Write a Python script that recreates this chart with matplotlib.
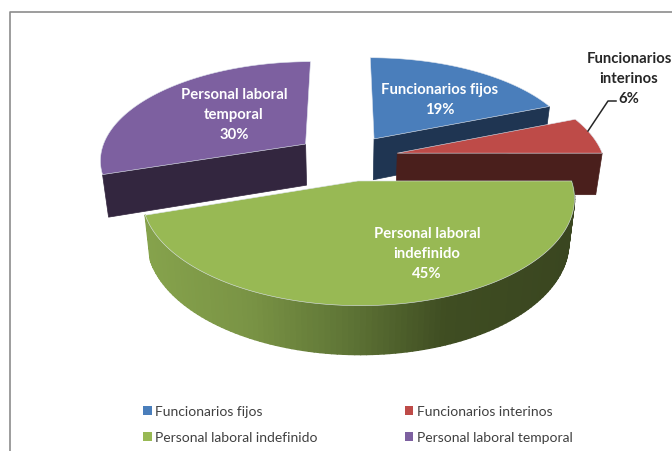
import numpy as np
import matplotlib
matplotlib.use("Agg")
import matplotlib.pyplot as plt
from matplotlib.colors import to_rgb
from matplotlib.patches import Polygon, Patch

categorias = ["Funcionarios fijos", "Funcionarios interinos",
              "Personal laboral indefinido", "Personal laboral temporal"]
valores = [19, 6, 45, 30]
etiquetas = ["Funcionarios fijos\n19%", "Funcionarios\ninterinos\n6%",
             "Personal laboral\nindefinido\n45%", "Personal laboral\ntemporal\n30%"]

# desplazamiento de cada porcion (radios)
expl_u = [0.15, 0.26, 0.065, -0.19]
expl_v = [0.25, 0.10, -0.175, 0.195]
colores = ["#4a7ebb", "#be4b48", "#98b954", "#7d60a0"]
oscuros = ["#1f3552", "#4a1f1c", "#5d7233", "#33263f"]
caras = ["fin", "fin", "arco", "ini"]

# degradado del lateral verde segun x
grad_x = [145, 250, 350, 450, 573]
grad_c = ["#86a34c", "#7a9445", "#5f7536", "#3f4d22", "#3a4620"]

# geometria de la tarta, en pixeles
cx, cy = 344, 164
rx, ry = 208, 100
k = 0.15
alto = 42
esc_x, esc_y = 0.975, 1.048


def proyecta(u, v, z=0.0):
    f = 1 / (1 + k * v)
    x = rx * u * f
    y = -ry * v * f
    return cx + (1 + (esc_x - 1) * z) * x, cy + (1 + (esc_y - 1) * z) * y + alto * z


def arco(i, a0, a1, z=0.0, n=120):
    # angulos desde el norte, en sentido horario
    a = np.radians(np.linspace(a0, a1, n))
    return proyecta(expl_u[i] + np.sin(a), expl_v[i] + np.cos(a), z)


fig = plt.figure(figsize=(6.72, 4.52), dpi=100)
ax = fig.add_axes([0, 0, 1, 1])
ax.set_xlim(0, 672)
ax.set_ylim(452, 0)
ax.axis("off")

# marco del grafico
ax.plot([9.5, 9.5, 672], [452, 12.5, 12.5], color="#8c8c8c", lw=1.2)

angulos = np.r_[0, np.cumsum(valores)] * 3.6
stops = np.array([to_rgb(c) for c in grad_c])

for i in [3, 0, 1, 2]:
    a0, a1 = angulos[i], angulos[i + 1]
    if caras[i] == "arco":
        xs, ys = arco(i, a0, a1)
        xi, yi = arco(i, a0, a1, 1)
        # tiras solapadas, de izquierda a derecha, para que no se vean rayas
        orden_x = range(len(xs) - 1) if xs[0] < xs[-1] else range(len(xs) - 2, -1, -1)
        for j in orden_x:
            q = [(xs[j], ys[j]), (xs[j + 1], ys[j + 1]), (xi[j + 1], yi[j + 1]), (xi[j], yi[j])]
            c = [np.interp(xs[j], grad_x, stops[:, n]) for n in range(3)]
            ax.add_patch(Polygon(q, closed=True, fc=c, ec=c, lw=1.2, joinstyle="round"))
    else:
        borde = a1 if caras[i] == "fin" else a0
        u = np.array([expl_u[i], expl_u[i] + np.sin(np.radians(borde))])
        v = np.array([expl_v[i], expl_v[i] + np.cos(np.radians(borde))])
        x0, y0 = proyecta(u, v)
        x1, y1 = proyecta(u, v, 1)
        q = [(x0[0], y0[0]), (x0[1], y0[1]), (x1[1], y1[1]), (x1[0], y1[0])]
        ax.add_patch(Polygon(q, closed=True, fc=oscuros[i], ec=oscuros[i], lw=0.5))
    xs, ys = arco(i, a0, a1)
    ap_x, ap_y = proyecta(expl_u[i], expl_v[i])
    ax.add_patch(Polygon(np.column_stack([np.r_[ap_x, xs], np.r_[ap_y, ys]]),
                         closed=True, fc=colores[i], ec="#dfe5ee", lw=0.4))

pos_x = [440, 629, 427, 234]
pos_y = [100, 79, 254, 115]
for i in range(4):
    ax.text(pos_x[i], pos_y[i], etiquetas[i], ha="center", va="center",
            family="Lato", weight="bold", fontsize=10.7, linespacing=1.56,
            color="#262626" if i == 1 else "white")

ax.plot([588, 608, 616], [132, 102, 102], color="#262626", lw=1.1)

orden = [0, 2, 1, 3]
ax.legend(handles=[Patch(fc=colores[i], label=categorias[i]) for i in orden],
          ncols=2, loc="upper left", bbox_to_anchor=(139 / 672, 1 - 402 / 452),
          frameon=False, prop={"family": "Lato", "size": 10},
          labelcolor="#404040", handlelength=0.6, handleheight=0.6,
          handletextpad=0.25, columnspacing=6.3, labelspacing=1.0, borderpad=0.3,
          borderaxespad=0)

fig.savefig("out.png", dpi=100)
